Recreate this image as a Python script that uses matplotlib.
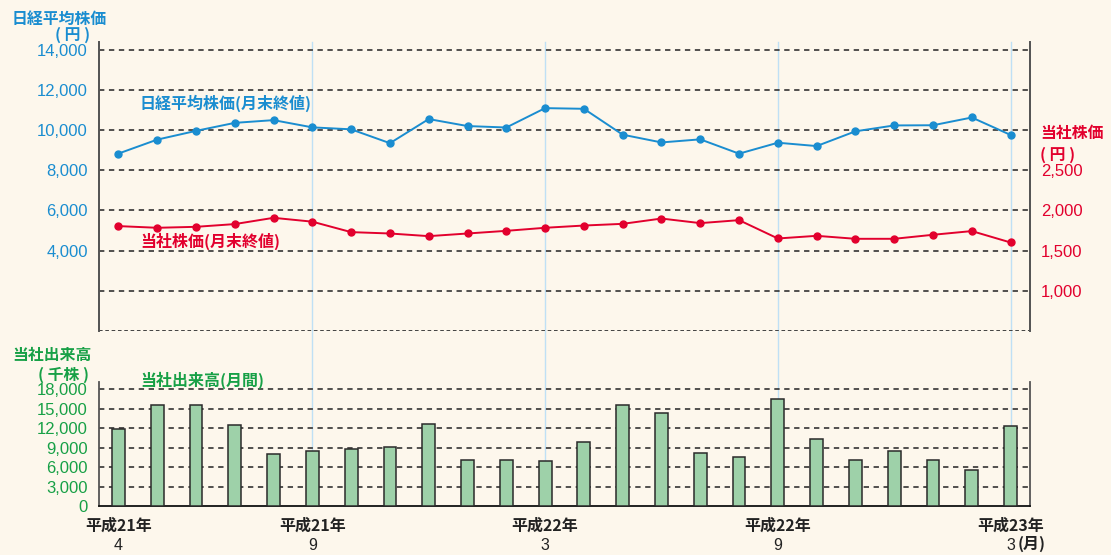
import matplotlib.pyplot as plt
import numpy as np

plt.rcParams['font.family'] = ['Liberation Sans', 'Noto Sans CJK JP']

# 平成21年4月 〜 平成23年3月 (24 months)
months = list(range(24))
nikkei = [8828, 9523, 9958, 10357, 10493, 10133, 10035, 9346, 10546, 10198, 10126, 11090,
          11057, 9769, 9383, 9537, 8824, 9369, 9202, 9937, 10229, 10238, 10624, 9755]
price = [1805, 1784, 1796, 1830, 1908, 1860, 1730, 1713, 1680, 1713, 1746, 1784,
         1812, 1833, 1899, 1842, 1879, 1651, 1684, 1647, 1647, 1697, 1743, 1601]
volume = [11900, 15600, 15500, 12500, 8000, 8500, 8830, 9140, 12620, 7140, 7140, 6880,
          9850, 15500, 14320, 8200, 7580, 16450, 10380, 7140, 8480, 7140, 5550, 12380]
tick_pos = [0, 5, 11, 17, 23]
tick_year = ['平成21年', '平成21年', '平成22年', '平成22年', '平成23年']
tick_month = ['4', '9', '3', '9', '3']

BG = '#fdf7ec'
BLUE = '#1a8dd0'
RED = '#e2002d'
GREEN = '#17a046'
VLINE = '#bfe0f5'
JP = ['Noto Sans CJK JP']

fig = plt.figure(figsize=(11.11, 5.55), dpi=100, facecolor=BG)
ax = fig.add_axes([0.0891, 0.4036, 0.838, 0.5207])
ax2 = ax.twinx()
axb = fig.add_axes([0.0891, 0.0883, 0.838, 0.2234])
for a in (ax, ax2, axb):
    a.set_facecolor('none')
ax.set_facecolor(BG)

# price panel
ax.set_xlim(-0.5, 23.5)
ax.set_ylim(0, 14380)
ax2.set_ylim(500, 500 + 14380 / 4)
for v in range(2000, 14001, 2000):
    ax.axhline(v, color='#222222', ls=(0, (3.5, 3)), lw=1.1, zorder=1)
ax.axhline(0, color='#333333', ls=(0, (2, 1.5)), lw=1.3, zorder=1)
for p in tick_pos[1:]:
    ax.axvline(p, ymin=-0.6, ymax=1, color=VLINE, lw=1, clip_on=False, zorder=0)

ax.plot(months, nikkei, color=BLUE, lw=1.4, marker='o', ms=5, zorder=3)
ax2.plot(months, price, color=RED, lw=1.4, marker='o', ms=5, zorder=3)

ax.set_yticks(range(4000, 14001, 2000))
ax.set_yticklabels([f'{v:,}' for v in range(4000, 14001, 2000)])
ax2.set_yticks(range(1000, 2501, 500))
ax2.set_yticklabels([f'{v:,}' for v in range(1000, 2501, 500)])
ax.tick_params(axis='y', length=0, pad=8, labelsize=12, labelcolor=BLUE)
ax2.tick_params(axis='y', length=0, pad=8, labelsize=12, labelcolor=RED)
ax.set_xticks([])
for a in (ax, ax2):
    a.spines['top'].set_visible(False)
    a.spines['bottom'].set_visible(False)
    a.spines['left'].set_color('#555555')
    a.spines['right'].set_color('#555555')
    a.spines['left'].set_linewidth(1.3)
    a.spines['right'].set_linewidth(1.3)

# volume panel
axb.set_xlim(-0.5, 23.5)
axb.set_ylim(0, 19100)
for v in range(3000, 18001, 3000):
    axb.axhline(v, color='#222222', ls=(0, (3.5, 3)), lw=1.1, zorder=1)
axb.bar(months, volume, width=0.33, color='#9ed1a9', edgecolor='#2a2a2a', lw=1.1, zorder=3)
axb.set_yticks(range(0, 18001, 3000))
axb.set_yticklabels([f'{v:,}' for v in range(0, 18001, 3000)])
axb.tick_params(axis='y', length=0, pad=8, labelsize=12, labelcolor=GREEN)
axb.set_xticks([])
axb.spines['top'].set_visible(False)
for s in ('left', 'right'):
    axb.spines[s].set_color('#555555')
    axb.spines[s].set_linewidth(1.3)
axb.spines['bottom'].set_color('#111111')
axb.spines['bottom'].set_linewidth(1.3)

for p, yr, mo in zip(tick_pos, tick_year, tick_month):
    axb.text(p, -0.095, yr, transform=axb.get_xaxis_transform(), ha='center', va='top',
             fontsize=11.5, fontweight='bold', family=JP, color='#222222')
    axb.text(p, -0.255, mo, transform=axb.get_xaxis_transform(), ha='center', va='top',
             fontsize=11.5, color='#222222')
axb.text(23.17, -0.24, '(月)', transform=axb.get_xaxis_transform(), ha='left', va='top',
         fontsize=11.5, fontweight='bold', family=JP, color='#222222')

# axis titles and series labels
fig.text(0.0108, 0.966, '日経平均株価', ha='left', va='center', fontsize=11.4,
         fontweight='bold', family=JP, color=BLUE)
fig.text(0.0655, 0.938, '( 円 )', ha='center', va='center', fontsize=11.4,
         fontweight='bold', family=JP, color=BLUE)
fig.text(0.936, 0.760, '当社株価', ha='left', va='center', fontsize=11.4,
         fontweight='bold', family=JP, color=RED)
fig.text(0.952, 0.721, '( 円 )', ha='center', va='center', fontsize=11.4,
         fontweight='bold', family=JP, color=RED)
fig.text(0.0108, 0.361, '当社出来高', ha='left', va='center', fontsize=11.4,
         fontweight='bold', family=JP, color=GREEN)
fig.text(0.057, 0.325, '( 千株 )', ha='center', va='center', fontsize=11.4,
         fontweight='bold', family=JP, color=GREEN)
fig.text(0.126, 0.813, '日経平均株価(月末終値)', ha='left', va='center', fontsize=11.5,
         fontweight='bold', family=JP, color=BLUE)
fig.text(0.126, 0.565, '当社株価(月末終値)', ha='left', va='center', fontsize=11.5,
         fontweight='bold', family=JP, color=RED)
fig.text(0.126, 0.314, '当社出来高(月間)', ha='left', va='center', fontsize=11.5,
         fontweight='bold', family=JP, color=GREEN)

fig.savefig('out.png', dpi=100, facecolor=BG)
